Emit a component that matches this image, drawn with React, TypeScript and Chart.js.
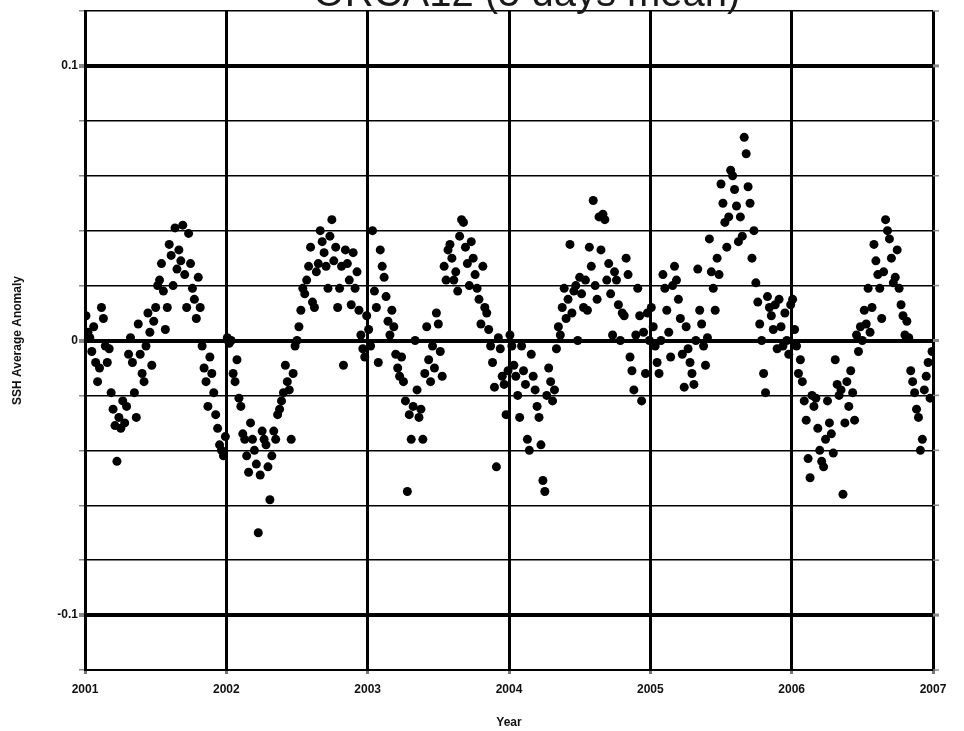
import React, { useEffect, useRef } from 'react';
import { Chart, registerables } from 'chart.js';
Chart.register(...registerables);

const TITLE = 'ORCA12 (5 days mean)';
const X_LABEL = 'Year';
const Y_LABEL = 'SSH Average Anomaly';
const YEARS = [2001, 2002, 2003, 2004, 2005, 2006];
const X_TICKS = [2001, 2002, 2003, 2004, 2005, 2006, 2007];
const Y_LABELED = [0.1, 0, -0.1];
const Y_MIN = -0.12;
const Y_MAX = 0.12;
const Y_STEP = 0.02;
const STEPS_PER_YEAR = 73; // 5-day means

const ssh2001 = [
  0.009, 0.003, 0.001, -0.004, 0.005, -0.008,
  -0.015, -0.01, 0.012, 0.008, -0.002, -0.008,
  -0.003, -0.019, -0.025, -0.031, -0.044, -0.028,
  -0.032, -0.022, -0.03, -0.024, -0.005, 0.001,
  -0.008, -0.019, -0.028, 0.006, -0.005, -0.012,
  -0.015, -0.002, 0.01, 0.003, -0.009, 0.007,
  0.012, 0.02, 0.022, 0.028, 0.018, 0.004,
  0.012, 0.035, 0.031, 0.02, 0.041, 0.026,
  0.033, 0.029, 0.042, 0.024, 0.012, 0.039,
  0.028, 0.019, 0.015, 0.008, 0.023, 0.012,
  -0.002, -0.01, -0.015, -0.024, -0.006, -0.012,
  -0.019, -0.027, -0.032, -0.038, -0.04, -0.042, -0.035,
];
const ssh2002 = [
  0.001, -0.001, 0.0, -0.012, -0.015, -0.007,
  -0.021, -0.024, -0.034, -0.036, -0.042, -0.048,
  -0.03, -0.036, -0.04, -0.045, -0.07, -0.049,
  -0.033, -0.036, -0.038, -0.046, -0.058, -0.042,
  -0.033, -0.036, -0.027, -0.025, -0.022, -0.019,
  -0.009, -0.015, -0.018, -0.036, -0.012, -0.002,
  0.0, 0.005, 0.011, 0.019, 0.017, 0.022,
  0.027, 0.034, 0.014, 0.012, 0.025, 0.028,
  0.04, 0.036, 0.032, 0.027, 0.019, 0.038,
  0.044, 0.029, 0.034, 0.012, 0.019, 0.027,
  -0.009, 0.033, 0.028, 0.022, 0.013, 0.032,
  0.019, 0.025, 0.011, 0.002, -0.003, -0.006, 0.009,
];
const ssh2003 = [
  0.004, -0.002, 0.04, 0.018, 0.012, -0.008,
  0.033, 0.027, 0.023, 0.016, 0.007, 0.002,
  0.011, 0.005, -0.005, -0.01, -0.013, -0.006,
  -0.015, -0.022, -0.055, -0.027, -0.036, -0.024,
  0.0, -0.018, -0.028, -0.025, -0.036, -0.012,
  0.005, -0.007, -0.015, -0.002, -0.01, 0.01,
  0.006, -0.004, -0.013, 0.027, 0.022, 0.033,
  0.035, 0.03, 0.022, 0.025, 0.018, 0.038,
  0.044, 0.043, 0.034, 0.028, 0.02, 0.036,
  0.03, 0.024, 0.019, 0.015, 0.006, 0.027,
  0.012, 0.01, 0.004, -0.002, -0.008, -0.017,
  -0.046, 0.001, -0.003, -0.013, -0.016, -0.027, -0.011,
];
const ssh2004 = [
  0.002, -0.002, -0.009, -0.013, -0.02, -0.028,
  -0.002, -0.011, -0.016, -0.036, -0.04, -0.005,
  -0.013, -0.018, -0.024, -0.028, -0.038, -0.051,
  -0.055, -0.02, -0.01, -0.015, -0.022, -0.018,
  -0.003, 0.005, 0.002, 0.012, 0.019, 0.008,
  0.015, 0.035, 0.01, 0.018, 0.02, 0.0,
  0.023, 0.017, 0.012, 0.022, 0.011, 0.034,
  0.027, 0.051, 0.02, 0.015, 0.045, 0.033,
  0.046, 0.044, 0.022, 0.028, 0.017, 0.002,
  0.025, 0.022, 0.013, 0.0, 0.01, 0.009,
  0.03, 0.024, -0.006, -0.011, -0.018, 0.002,
  0.019, 0.009, -0.022, 0.003, -0.012, 0.01, 0.0,
];
const ssh2005 = [
  0.012, 0.005, -0.002, -0.008, -0.012, 0.0,
  0.024, 0.019, 0.011, 0.003, -0.006, 0.02,
  0.027, 0.022, 0.015, 0.008, -0.005, -0.017,
  0.005, -0.003, -0.008, -0.012, -0.016, 0.0,
  0.026, 0.011, 0.006, -0.002, -0.009, 0.001,
  0.037, 0.025, 0.019, 0.011, 0.03, 0.024,
  0.057, 0.05, 0.043, 0.034, 0.045, 0.062,
  0.06, 0.055, 0.049, 0.036, 0.045, 0.038,
  0.074, 0.068, 0.056, 0.05, 0.03, 0.04,
  0.021, 0.014, 0.006, 0.0, -0.012, -0.019,
  0.016, 0.012, 0.009, 0.004, 0.013, -0.003,
  0.015, 0.005, -0.002, 0.01, 0.0, -0.005, 0.013,
];
const ssh2006 = [
  0.015, 0.004, -0.002, -0.012, -0.007, -0.015,
  -0.022, -0.029, -0.043, -0.05, -0.02, -0.024,
  -0.021, -0.032, -0.04, -0.044, -0.046, -0.036,
  -0.022, -0.03, -0.034, -0.041, -0.007, -0.016,
  -0.02, -0.018, -0.056, -0.03, -0.015, -0.024,
  -0.011, -0.019, -0.029, 0.002, -0.004, 0.005,
  0.0, 0.011, 0.006, 0.019, 0.003, 0.012,
  0.035, 0.029, 0.024, 0.019, 0.008, 0.025,
  0.044, 0.04, 0.037, 0.03, 0.021, 0.023,
  0.033, 0.019, 0.013, 0.009, 0.002, 0.007,
  0.001, -0.011, -0.015, -0.019, -0.025, -0.028,
  -0.04, -0.036, -0.018, -0.013, -0.008, -0.021, -0.004,
];
const SERIES_BY_YEAR = [ssh2001, ssh2002, ssh2003, ssh2004, ssh2005, ssh2006];

const FONT = "'Liberation Sans', Arial, Helvetica, sans-serif";

function isLabeled(v: number) {
  return Y_LABELED.some((l) => Math.abs(l - v) < 1e-6);
}

const titlePlugin = {
  id: 'cutTitle',
  afterDraw(chart: any) {
    const ctx = chart.ctx;
    ctx.save();
    ctx.font = `40px ${FONT}`;
    ctx.fillStyle = '#1a1a1a';
    ctx.textAlign = 'center';
    ctx.textBaseline = 'alphabetic';
    ctx.fillText(TITLE, 527, 6);
    ctx.restore();
  },
};

// short tick marks on the right side of the plot, one per y grid line
const rightTicksPlugin = {
  id: 'rightTicks',
  beforeDatasetsDraw(chart: any) {
    const ctx = chart.ctx;
    const y = chart.scales.y;
    const right = chart.chartArea.right;
    ctx.save();
    ctx.strokeStyle = '#888';
    y.ticks.forEach((t: any) => {
      const py = y.getPixelForValue(t.value);
      ctx.lineWidth = isLabeled(t.value) ? 3 : 1.5;
      ctx.beginPath();
      ctx.moveTo(right, py);
      ctx.lineTo(right + 6, py);
      ctx.stroke();
    });
    ctx.restore();
  },
};

export default function App() {
  const ref = useRef<HTMLCanvasElement | null>(null);
  useEffect(() => {
    if (!ref.current) return;
    const points: { x: number; y: number }[] = [];
    YEARS.forEach((yr, k) => {
      SERIES_BY_YEAR[k].forEach((v, i) => {
        points.push({ x: yr + (i + 0.5) / STEPS_PER_YEAR, y: v });
      });
    });
    const chart = new Chart(ref.current, {
      type: 'scatter',
      data: {
        datasets: [
          {
            label: 'SSH',
            data: points,
            pointRadius: 4.5,
            pointHoverRadius: 4.5,
            backgroundColor: '#000',
            borderWidth: 0,
          },
        ],
      },
      options: {
        animation: false,
        responsive: false,
        events: [],
        layout: { padding: { top: 11, right: 31, left: 0, bottom: 0 } },
        plugins: { legend: { display: false }, tooltip: { enabled: false }, title: { display: false } },
        scales: {
          x: {
            type: 'linear',
            min: X_TICKS[0],
            max: X_TICKS[X_TICKS.length - 1],
            afterBuildTicks: (scale: any) => {
              scale.ticks = X_TICKS.map((v) => ({ value: v }));
            },
            afterFit: (scale: any) => {
              scale.height = 61;
            },
            ticks: {
              callback: (v: any) => String(v),
              font: { family: FONT, size: 12, weight: 'bold' },
              color: '#111',
              padding: 8,
              maxRotation: 0,
            },
            grid: { color: '#000', lineWidth: 3, tickLength: 4, tickColor: '#777' },
            border: { display: true, color: '#000', width: 2 },
            title: {
              display: true,
              text: X_LABEL,
              font: { family: FONT, size: 12, weight: 'bold' },
              color: '#111',
              padding: { top: 0, bottom: 1 },
            },
          },
          y: {
            type: 'linear',
            min: Y_MIN,
            max: Y_MAX,
            afterFit: (scale: any) => {
              scale.width = 85;
            },
            ticks: {
              stepSize: Y_STEP,
              autoSkip: false,
              callback: (v: any) => {
                const n = Number(v);
                if (!isLabeled(n)) return '';
                const r = Math.round(n * 10) / 10;
                return r === 0 ? '0' : String(r);
              },
              font: { family: FONT, size: 12, weight: 'bold' },
              color: '#111',
              padding: 1,
            },
            grid: {
              color: '#000',
              lineWidth: (c: any) => (c.tick && isLabeled(c.tick.value) ? 4 : 1.5),
              tickLength: 6,
              tickColor: '#888',
            },
            border: { display: true, color: '#000', width: 3 },
            title: {
              display: true,
              text: Y_LABEL,
              font: { family: FONT, size: 12, weight: 'bold' },
              color: '#111',
              padding: { top: 10, bottom: 0 },
            },
          },
        },
      },
      plugins: [rightTicksPlugin, titlePlugin],
    } as any);
    return () => chart.destroy();
  }, []);
  return (
    <div style={{ position: 'fixed', left: 0, top: 0, width: 964, height: 731, background: '#fff' }}>
      <canvas ref={ref} width={964} height={731} style={{ display: 'block' }} />
    </div>
  );
}
